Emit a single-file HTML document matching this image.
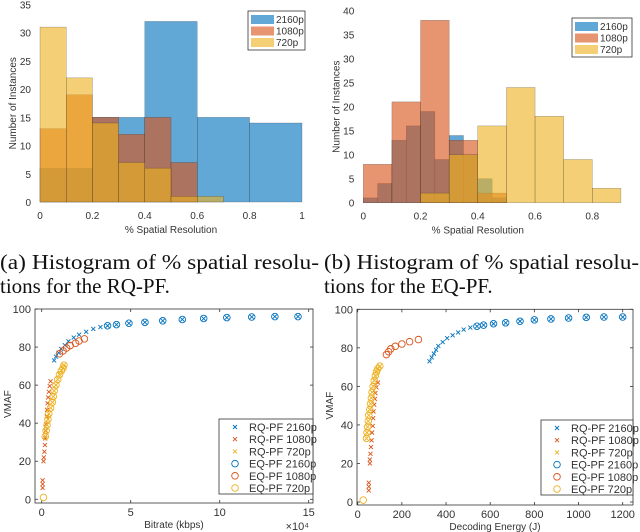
<!DOCTYPE html>
<html><head><meta charset="utf-8"><style>
body{margin:0;background:#fff;width:640px;height:532px;overflow:hidden}
svg{display:block}
text{font-family:"Liberation Sans",sans-serif}
.cap{font-family:"Liberation Serif",serif;font-size:21px;fill:#111}
.tk{font-size:10px;fill:#333}
.tk2{font-size:11px;fill:#333}
.lab{font-size:10px;fill:#333}
</style></head><body>
<svg id="fig" width="640" height="532">
<g id="ha"></g>
<g id="hb"></g>
<g id="sc"></g>
<g id="sd"></g>
<text class="cap" x="0" y="269" textLength="319" lengthAdjust="spacingAndGlyphs">(a) Histogram of % spatial resolu-</text>
<text class="cap" x="0" y="293">tions for the RQ-PF.</text>
<text class="cap" x="324" y="269" textLength="315" lengthAdjust="spacingAndGlyphs">(b) Histogram of % spatial resolu-</text>
<text class="cap" x="324" y="293">tions for the EQ-PF.</text>
</svg>
<script>
const NS="http://www.w3.org/2000/svg";
// ---- histogram (a) data: [binStart, binEnd, count]
const aBlue=[[0,0.2,6],[0.2,0.4,15],[0.4,0.6,32],[0.6,0.8,15],[0.8,1.0,14]];
const aOrange=[[0,0.1,13],[0.1,0.2,19],[0.2,0.3,15],[0.3,0.4,12],[0.4,0.5,15],[0.5,0.6,7]];
const aYellow=[[0,0.1,31],[0.1,0.2,22],[0.2,0.3,14],[0.3,0.4,7],[0.4,0.5,6],[0.5,0.6,1],[0.6,0.7,1]];
const aXTicks=[0,0.2,0.4,0.6,0.8,1];
const aYTicks=[0,5,10,15,20,25,30,35];
// ---- histogram (b) data
const bBlue=[[0,0.05,1],[0.05,0.1,4],[0.1,0.15,13],[0.15,0.2,16],[0.2,0.25,19],[0.25,0.3,9],[0.3,0.35,14],[0.35,0.4,10],[0.4,0.45,5],[0.45,0.5,1]];
const bOrange=[[0,0.1,8],[0.1,0.2,21],[0.2,0.3,38],[0.3,0.4,13],[0.4,0.5,2]];
const bYellow=[[0.2,0.3,2],[0.3,0.4,10],[0.4,0.5,16],[0.5,0.6,24],[0.6,0.7,18],[0.7,0.8,9],[0.8,0.9,3]];
const bXTicks=[0,0.2,0.4,0.6,0.8];
const bYTicks=[0,5,10,15,20,25,30,35,40];
// ---- scatter data (VMAF)
const vm2160=[73,75,77,79,81,83,85,86.5,88,89.5,90.5,91.2,91.8,92.5,93,93.8,94.5,95,95.5,95.8,96,96];
const br2160=[0.7,0.8,0.95,1.1,1.3,1.5,1.8,2.1,2.5,2.9,3.3,3.7,4.2,4.9,5.8,6.8,7.9,9.1,10.4,11.8,13.1,14.4];
const en2160=[325,335,345,355,365,385,405,430,455,480,510,540,570,615,670,735,800,875,955,1035,1115,1200];
const vm1080=[6,8,10,20,22,25,28.5,32,36,39.5,43.5,47,50.5,53.5,56.5,59.5,62];
const br1080=[0.05,0.05,0.05,0.1,0.12,0.15,0.18,0.2,0.22,0.25,0.28,0.3,0.33,0.36,0.4,0.45,0.5];
const en1080=[50,50,50,55,55,58,60,63,65,68,70,72,75,78,80,85,92];
const vmE1080=[76.5,78,79.5,80.8,82,83.2,84.3];
const brE1080=[1.0,1.2,1.4,1.6,1.9,2.1,2.4];
const enE1080=[130,140,150,170,200,235,275];
const vm720=[1,33,36,39,42,45,48,51,54,57,60,63,65.5,67.5,69,70.5];
const br720=[0.1,0.2,0.25,0.3,0.35,0.4,0.5,0.6,0.65,0.7,0.8,0.9,1.0,1.1,1.2,1.25];
const en720=[25,40,42,45,48,50,55,58,62,65,70,75,80,85,90,100];
const eqStart2160=11;
const brXTicks=[0,5,10,15];
const enXTicks=[0,200,400,600,800,1000,1200];
const vmYTicks=[0,20,40,60,80,100];
const legendLabels=["RQ-PF 2160p","RQ-PF 1080p","RQ-PF 720p","EQ-PF 2160p","EQ-PF 1080p","EQ-PF 720p"];
const C={b:"#0072BD",o:"#D95319",y:"#EDB120"};

function el(p,t,a){const e=document.createElementNS(NS,t);for(const k in a)e.setAttribute(k,a[k]);p.appendChild(e);return e;}
function txt(p,x,y,s,cls,anchor){const e=el(p,"text",{x:x,y:y,class:cls,"text-anchor":anchor||"middle"});e.textContent=s;return e;}

function hist(g,ax,series,xt,yt,leg,xlab){
  const X=v=>ax.x0+(v-ax.xmin)/(ax.xmax-ax.xmin)*(ax.x1-ax.x0);
  const Y=v=>ax.y0-(v/ax.ymax)*(ax.y0-ax.y1);
  const names=["bars-2160p","bars-1080p","bars-720p"];
  series.forEach((s,i)=>{s.data.forEach(d=>{
    const r=el(g,"rect",{x:X(d[0]),y:Y(d[2]),width:X(d[1])-X(d[0]),height:Y(0)-Y(d[2]),fill:s.c,"fill-opacity":0.62,stroke:"#222","stroke-width":0.4,"stroke-opacity":0.5});
    
    
  });});
  xt.forEach(v=>{const t=txt(g,X(v),Y(0)+17,String(v),"tk");});
  yt.forEach(v=>{const t=txt(g,ax.x0-9,Y(v)+4,String(v),"tk","end");});
  const xl=txt(g,(ax.x0+ax.x1)/2,Y(0)+31,xlab,"lab");
  const yl=txt(g,0,0,"Number of Instances","lab");yl.setAttribute("transform","translate("+(ax.x0-24)+","+((ax.y0+ax.y1)/2)+") rotate(-90)");
  
  const lb=el(g,"rect",{x:leg.x,y:leg.y,width:leg.w,height:39,fill:"#fff",stroke:"#333","stroke-width":0.8});
  
  ["2160p","1080p","720p"].forEach((n,i)=>{
    const p=el(g,"rect",{x:leg.x+3,y:leg.y+4+i*11.5,width:23,height:9,fill:series[i].c,"fill-opacity":0.62});
    
    const t=txt(g,leg.x+28,leg.y+12+i*11.5,n,"tk","start");t.setAttribute("font-size","10.5");
    
  });
}
hist(document.getElementById("ha"),{x0:40,x1:302,xmin:0,xmax:1,y0:202,y1:4.5,ymax:35},
  [{data:aBlue,c:C.b},{data:aOrange,c:C.o},{data:aYellow,c:C.y}],aXTicks,aYTicks,{x:248,y:11,w:57},"% Spatial Resolution");
hist(document.getElementById("hb"),{x0:363.3,x1:592.3,xmin:0,xmax:0.8,y0:202.7,y1:10.7,ymax:40},
  [{data:bBlue,c:C.b},{data:bOrange,c:C.o},{data:bYellow,c:C.y}],bXTicks,bYTicks,{x:572,y:18,w:60},"% Spatial Resolution");

function scatter(g,ax,xs,xt,xlab,exp){
  const X=v=>ax.x0+(v-ax.xmin)/(ax.xmax-ax.xmin)*(ax.x1-ax.x0);
  const Y=v=>ax.y0-(v/100)*(ax.y0-ax.y1);
  const f=el(g,"rect",{x:ax.bx0,y:ax.y1,width:ax.bx1-ax.bx0,height:ax.by1-ax.y1,fill:"#fff",stroke:"#333","stroke-width":0.8});
  
  xt.forEach(v=>{el(g,"line",{x1:X(v),x2:X(v),y1:ax.by1,y2:ax.by1-3,stroke:"#333","stroke-width":0.8});el(g,"line",{x1:X(v),x2:X(v),y1:ax.y1,y2:ax.y1+3,stroke:"#333","stroke-width":0.8});
    const t=txt(g,X(v),ax.by1+13,String(v),"tk2");});
  vmYTicks.forEach(v=>{el(g,"line",{x1:ax.bx0,x2:ax.bx0+3,y1:Y(v),y2:Y(v),stroke:"#333","stroke-width":0.8});el(g,"line",{x1:ax.bx1,x2:ax.bx1-3,y1:Y(v),y2:Y(v),stroke:"#333","stroke-width":0.8});
    const t=txt(g,ax.bx0-4,Y(v)+4,String(v),"tk2","end");});
  const xl=txt(g,(ax.bx0+ax.bx1)/2,ax.by1+25,xlab,"lab");
  const yl=txt(g,0,0,"VMAF","lab");yl.setAttribute("transform","translate("+(ax.bx0-24)+","+((ax.y0+ax.y1)/2)+") rotate(-90)");
  
  if(exp){const e=txt(g,ax.bx1-4,ax.by1+27,"×10⁴","tk2","end");}
  function cross(x,y,c,name){const p=el(g,"path",{d:`M${x-2},${y-2}L${x+2},${y+2}M${x-2},${y+2}L${x+2},${y-2}`,stroke:c,"stroke-width":0.9,fill:"none"});}
  function circ(x,y,c,name){const p=el(g,"circle",{cx:x,cy:y,r:3.3,stroke:c,"stroke-width":0.9,fill:"none"});}
  xs.x2160.forEach((v,i)=>cross(X(v),Y(vm2160[i]),C.b,"rq-2160p-point"));
  xs.x1080.forEach((v,i)=>cross(X(v),Y(vm1080[i]),C.o,"rq-1080p-point"));
  xs.x720.forEach((v,i)=>{if(i>0)cross(X(v),Y(vm720[i]),C.y,"rq-720p-point");});
  xs.x2160.forEach((v,i)=>{if(i>=eqStart2160)circ(X(v),Y(vm2160[i]),C.b,"eq-2160p-point");});
  xs.xE1080.forEach((v,i)=>circ(X(v),Y(vmE1080[i]),C.o,"eq-1080p-point"));
  xs.x720.forEach((v,i)=>circ(X(v),Y(vm720[i]),C.y,"eq-720p-point"));
  const L=ax.leg;
  const lb=el(g,"rect",{x:L.x,y:L.y,width:L.w,height:75,fill:"#fff",stroke:"#333","stroke-width":0.8});
  
  legendLabels.forEach((n,i)=>{const yy=L.y+8+i*12.2;const c=[C.b,C.o,C.y][i%3];
    if(i<3)cross(L.x+16,yy,c,"legend-marker");else circ(L.x+16,yy,c,"legend-marker");
    const t=txt(g,L.x+30,yy+4,n,"tk2","start");});
}
scatter(document.getElementById("sc"),{x0:41.7,x1:308.7,xmin:0,xmax:15,y0:499.3,y1:309,bx0:35,bx1:313,by1:503,leg:{x:219,y:419,w:94}},
  {x2160:br2160,x1080:br1080,x720:br720,xE1080:brE1080},brXTicks,"Bitrate (kbps)",true);
scatter(document.getElementById("sd"),{x0:357.7,x1:622.7,xmin:0,xmax:1200,y0:502,y1:309.3,bx0:357,bx1:633,by1:505,leg:{x:541,y:420,w:92}},
  {x2160:en2160,x1080:en1080,x720:en720,xE1080:enE1080},enXTicks,"Decoding Energy (J)",false);
</script>
</body></html>
